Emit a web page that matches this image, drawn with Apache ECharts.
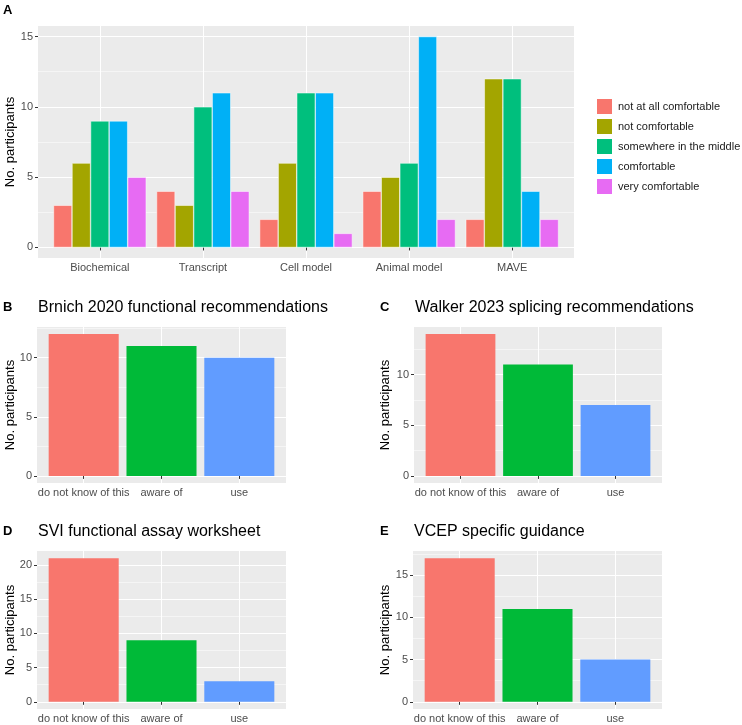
<!DOCTYPE html>
<html>
<head>
<meta charset="utf-8">
<script src="https://cdn.jsdelivr.net/npm/echarts@6/dist/echarts.min.js"></script>
<style>
  html, body { margin: 0; padding: 0; background: #fff; }
  #chart { width: 742px; height: 725px; }
</style>
</head>
<body>
<div id="chart"></div>
<script>
// panel A: comfort with each assay type
const methods = ["Biochemical", "Transcript", "Cell model", "Animal model", "MAVE"];
const comfortLevels = ["not at all comfortable", "not comfortable", "somewhere in the middle", "comfortable", "very comfortable"];
const notAtAllComfortable = [3, 4, 2, 4, 2];
const notComfortable = [6, 3, 6, 5, 12];
const somewhereInMiddle = [9, 10, 11, 6, 12];
const comfortable = [9, 11, 11, 15, 4];
const veryComfortable = [5, 4, 1, 2, 2];

// panels B-E: awareness of guidelines
const awareness = ["do not know of this", "aware of", "use"];
const brnich2020 = [12, 11, 10];
const walker2023 = [14, 11, 7];
const sviWorksheet = [21, 9, 3];
const vcepGuidance = [17, 11, 5];

const comfortColors = ["#F8766D", "#A3A500", "#00BF7D", "#00B0F6", "#E76BF3"];
const awareColors = ["#F8766D", "#00BA38", "#619CFF"];
const FONT = '"Liberation Sans", Arial, Helvetica, sans-serif';

const grids = [], xAxes = [], yAxes = [], series = [], titles = [];

// one ggplot-like panel: grey background, major + minor white lines, bars grid
function addPanel(box, cats, maxVal, nameX) {
  const lo = -0.05 * maxVal, hi = 1.05 * maxVal;
  const toPx = v => box.y + box.h * (hi - v) / (hi - lo);
  const band = box.w / (cats.length + 0.2);
  const inset = 0.1 * band;
  const majTop = Math.floor(hi / 5) * 5;
  const minTop = 2.5 + Math.floor((hi - 2.5) / 5) * 5;
  const noAxis = { axisLine: { show: false }, axisTick: { show: false }, axisLabel: { show: false }, splitLine: { show: false } };

  // background + axis title
  let g = grids.length;
  grids.push({ left: box.x, top: box.y, width: box.w, height: box.h, show: true,
    backgroundColor: "#EBEBEB", borderWidth: 0, outerBoundsMode: "none" });
  xAxes.push({ type: "value", gridIndex: g, show: false });
  yAxes.push(Object.assign({ type: "value", gridIndex: g, min: 0, max: 1,
    name: "No. participants", nameLocation: "middle", nameGap: box.x - nameX - 7,
    nameTextStyle: { fontSize: 13, color: "#000", fontFamily: FONT } }, noAxis));

  // minor lines
  g = grids.length;
  grids.push({ left: box.x, top: toPx(minTop), width: box.w, height: toPx(2.5) - toPx(minTop), outerBoundsMode: "none" });
  xAxes.push({ type: "value", gridIndex: g, show: false });
  yAxes.push(Object.assign({}, noAxis, { type: "value", gridIndex: g, min: 2.5, max: minTop, interval: 5,
    splitLine: { show: true, lineStyle: { color: "#fff", width: 0.5 } } }));

  // major lines + tick labels
  g = grids.length;
  grids.push({ left: box.x, top: toPx(majTop), width: box.w, height: toPx(0) - toPx(majTop), outerBoundsMode: "none" });
  xAxes.push({ type: "value", gridIndex: g, show: false });
  yAxes.push({ type: "value", gridIndex: g, min: 0, max: majTop, interval: 5,
    axisLine: { show: false },
    axisTick: { show: true, length: 3, lineStyle: { color: "#333", width: 1 } },
    axisLabel: { margin: 5, color: "#4D4D4D", fontSize: 11, fontFamily: FONT },
    splitLine: { show: true, lineStyle: { color: "#fff", width: 1 } } });

  // bars
  g = grids.length;
  grids.push({ left: box.x + inset, top: box.y, width: box.w - 2 * inset, height: box.h, outerBoundsMode: "none" });
  xAxes.push({ type: "category", gridIndex: g, data: cats,
    axisLine: { show: false },
    axisTick: { show: true, alignWithLabel: true, length: 3, lineStyle: { color: "#333", width: 1 } },
    axisLabel: { interval: 0, margin: 4, color: "#4D4D4D", fontSize: 11, fontFamily: FONT },
    splitLine: { show: true, alignWithLabel: true, lineStyle: { color: "#fff", width: 1 } } });
  yAxes.push({ type: "value", gridIndex: g, min: lo, max: hi, show: false });
  return { x: xAxes.length - 1, y: yAxes.length - 1 };
}

function addTitle(letter, text, lx, tx, top) {
  titles.push({ text: letter, left: lx, top: top, padding: 0,
    textStyle: { fontSize: 13, fontWeight: "bold", color: "#000", fontFamily: FONT } });
  if (text) {
    titles.push({ text: text, left: tx, top: top - 1, padding: 0,
      textStyle: { fontSize: 16, fontWeight: "normal", color: "#000", fontFamily: FONT } });
  }
}

// panel A
const comfortData = [notAtAllComfortable, notComfortable, somewhereInMiddle, comfortable, veryComfortable];
const aMax = Math.max(...comfortData.flat());
const aAx = addPanel({ x: 38, y: 26, w: 536, h: 232 }, methods, aMax, 10);
comfortData.forEach((d, i) => {
  series.push({ type: "bar", name: comfortLevels[i], xAxisIndex: aAx.x, yAxisIndex: aAx.y,
    data: d, barGap: "0%", barCategoryGap: "10%",
    itemStyle: { color: comfortColors[i], borderColor: "#fff", borderWidth: 0.5 } });
});
addTitle("A", null, 3, 0, 4);

// panels B-E
const awarePanels = [
  { letter: "B", title: "Brnich 2020 functional recommendations", data: brnich2020, box: { x: 37, y: 327, w: 249, h: 156 }, nameX: 10 },
  { letter: "C", title: "Walker 2023 splicing recommendations", data: walker2023, box: { x: 414, y: 327, w: 248, h: 156 }, nameX: 385 },
  { letter: "D", title: "SVI functional assay worksheet", data: sviWorksheet, box: { x: 37, y: 551, w: 249, h: 158 }, nameX: 10 },
  { letter: "E", title: "VCEP specific guidance", data: vcepGuidance, box: { x: 413, y: 551, w: 249, h: 158 }, nameX: 385 }
];
awarePanels.forEach(p => {
  const ax = addPanel(p.box, awareness, Math.max(...p.data), p.nameX);
  series.push({ type: "bar", name: p.title, xAxisIndex: ax.x, yAxisIndex: ax.y,
    barCategoryGap: "10%",
    data: p.data.map((v, i) => ({ value: v, itemStyle: { color: awareColors[i] } })) });
  const letterX = p.box.x < 200 ? 3 : 380;
  addTitle(p.letter, p.title, letterX, p.box.x + 1, p.box.y - 26);
});

const chart = echarts.init(document.getElementById("chart"));
chart.setOption({
  animation: false,
  backgroundColor: "#fff",
  title: titles,
  legend: {
    data: comfortLevels, orient: "vertical", left: 595, top: 97, padding: 0,
    itemWidth: 17, itemHeight: 17, itemGap: 1, icon: "rect", selectedMode: false,
    textStyle: { fontSize: 11, color: "#1a1a1a", fontFamily: FONT, overflow: "none", width: 140 }
  },
  grid: grids,
  xAxis: xAxes,
  yAxis: yAxes,
  series: series
});
</script>
</body>
</html>
